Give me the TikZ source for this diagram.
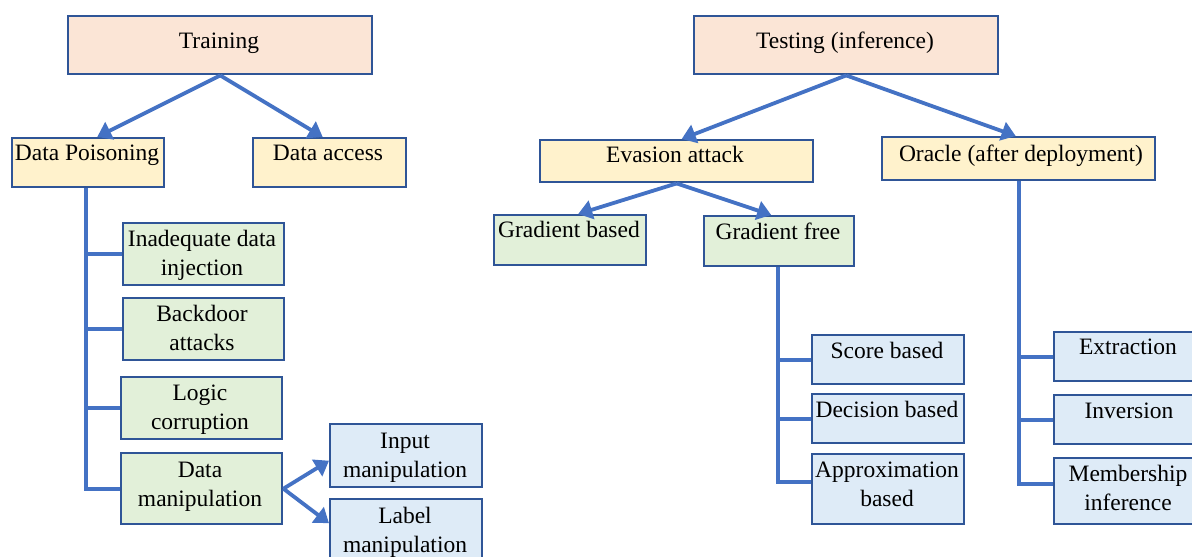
\documentclass[tikz,border=0pt]{standalone}
\usepackage{fontspec}
\setmainfont{Liberation Serif}
\usetikzlibrary{arrows.meta}
\definecolor{edge}{HTML}{2F5597}
\definecolor{link}{HTML}{4472C4}
\definecolor{pinkfill}{HTML}{FBE5D6}
\definecolor{yellowfill}{HTML}{FFF2CC}
\definecolor{greenfill}{HTML}{E2F0D9}
\definecolor{bluefill}{HTML}{DEEBF7}
\tikzset{
  box/.style={draw=edge, line width=2.4pt, rectangle, inner sep=0pt, anchor=north west},
  % base anchor of a two-line label sits on its last line
  lbl/.style={inner sep=0pt, anchor=base, align=center,
              font=\fontsize{23.5}{29}\selectfont},
  conn/.style={draw=link, line width=3.8pt},
  arr/.style={conn, -{Triangle[width=19pt,length=14pt]}},
}
\begin{document}
\begin{tikzpicture}[x=1pt,y=-1pt]
\useasboundingbox (0,0) rectangle (1192,557);
\clip (0,0) rectangle (1192,557);

% ---- training side ----
\node[box, fill=pinkfill,   minimum width=304pt, minimum height=58pt] (train) at (67,15) {};
\node[box, fill=yellowfill, minimum width=152pt, minimum height=49pt] (dp) at (11,137) {};
\node[box, fill=yellowfill, minimum width=153pt, minimum height=49pt] (da) at (252,137) {};
\node[box, fill=greenfill,  minimum width=161pt, minimum height=62pt] (idi) at (122,222) {};
\node[box, fill=greenfill,  minimum width=161pt, minimum height=62pt] (bd) at (122,297) {};
\node[box, fill=greenfill,  minimum width=161pt, minimum height=62pt] (lc) at (120,376) {};
\node[box, fill=greenfill,  minimum width=161pt, minimum height=71pt] (dm) at (120,452) {};
\node[box, fill=bluefill,   minimum width=152pt, minimum height=63pt] (im) at (329,423) {};
\node[box, fill=bluefill,   minimum width=152pt, minimum height=68pt] (lm) at (329,498) {};

\node[lbl] (train-t) at (219,48) {Training};
\node[lbl] (dp-t) at (87,160) {Data Poisoning};
\node[lbl] (da-t) at (328,160) {Data access};
\node[lbl] (idi-t) at (202,275) {Inadequate data\\injection};
\node[lbl] (bd-t) at (202,350) {Backdoor\\attacks};
\node[lbl] (lc-t) at (200,429) {Logic\\corruption};
\node[lbl] (dm-t) at (200,506) {Data\\manipulation};
\node[lbl] (im-t) at (405,477) {Input\\manipulation};
\node[lbl] (lm-t) at (405,552) {Label\\manipulation};

\draw[arr] (train.south) -- ([xshift=9pt]dp.north);
\draw[arr] (train.south) -- ([xshift=-7pt]da.north);
\draw[conn] (idi.west) -| ([xshift=-2pt]dp.south);
\draw[conn] (bd.west) -| ([xshift=-2pt]dp.south);
\draw[conn] (lc.west) -| ([xshift=-2pt]dp.south);
\draw[conn] (dm.west) -| ([xshift=-2pt]dp.south);
\draw[arr] (dm.east) -- ([yshift=-5pt]im.west);
\draw[arr] (dm.east) -- ([yshift=10pt]lm.west);

% ---- testing side ----
\node[box, fill=pinkfill,   minimum width=304pt, minimum height=58pt] (test) at (693,15) {};
\node[box, fill=yellowfill, minimum width=273pt, minimum height=42pt] (ev) at (539,139) {};
\node[box, fill=yellowfill, minimum width=273pt, minimum height=43pt] (orc) at (881,136) {};
\node[box, fill=greenfill,  minimum width=152pt, minimum height=50pt] (gb) at (493,214) {};
\node[box, fill=greenfill,  minimum width=150pt, minimum height=50pt] (gf) at (703,215) {};
\node[box, fill=bluefill,   minimum width=152pt, minimum height=49pt] (sb) at (811,334) {};
\node[box, fill=bluefill,   minimum width=152pt, minimum height=49pt] (db) at (811,393) {};
\node[box, fill=bluefill,   minimum width=152pt, minimum height=70pt] (ab) at (811,453) {};
\node[box, fill=bluefill,   minimum width=160pt, minimum height=49pt] (ex) at (1053,331) {};
\node[box, fill=bluefill,   minimum width=160pt, minimum height=49pt] (inv) at (1053,394) {};
\node[box, fill=bluefill,   minimum width=160pt, minimum height=66pt] (mi) at (1053,457) {};

\node[lbl] (test-t) at (845,48) {Testing (inference)};
\node[lbl] (ev-t) at (675,162) {Evasion attack};
\node[lbl] (orc-t) at (1021,161) {Oracle (after deployment)};
\node[lbl] (gb-t) at (569,237) {Gradient based};
\node[lbl] (gf-t) at (778,239) {Gradient free};
\node[lbl] (sb-t) at (887,358) {Score based};
\node[lbl] (db-t) at (887,417) {Decision based};
\node[lbl] (ab-t) at (887,506) {Approximation\\based};
\node[lbl] (ex-t) at (1128,354) {Extraction};
\node[lbl] (inv-t) at (1129,418) {Inversion};
\node[lbl] (mi-t) at (1128,510) {Membership\\inference};

\draw[arr] (test.south) -- ([xshift=5pt]ev.north);
\draw[arr] (test.south) -- ([xshift=-3pt]orc.north);
\draw[arr] (ev.south) -- ([xshift=8pt]gb.north);
\draw[arr] (ev.south) -- ([xshift=-8pt]gf.north);
\draw[conn] (sb.west) -| ([xshift=-1pt]gf.south);
\draw[conn] (db.west) -| ([xshift=-1pt]gf.south);
\draw[conn] ([yshift=7pt]ab.west) -| ([xshift=-1pt]gf.south);
\draw[conn] (ex.west) -| (orc.south);
\draw[conn] (inv.west) -| (orc.south);
\draw[conn] ([yshift=7pt]mi.west) -| (orc.south);
\end{tikzpicture}
\end{document}
